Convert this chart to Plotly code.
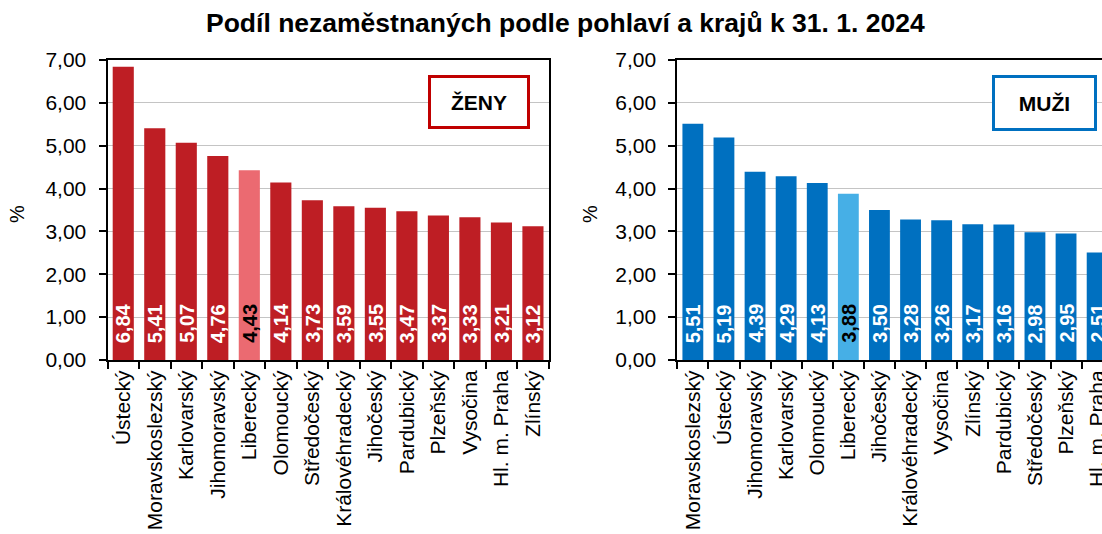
import plotly.graph_objects as go

title_text = "Podíl nezaměstnaných podle pohlaví a krajů k 31. 1. 2024"

women_regions = ["Ústecký", "Moravskoslezský", "Karlovarský", "Jihomoravský", "Liberecký",
                 "Olomoucký", "Středočeský", "Královéhradecký", "Jihočeský", "Pardubický",
                 "Plzeňský", "Vysočina", "Hl. m. Praha", "Zlínský"]
women_values = [6.84, 5.41, 5.07, 4.76, 4.43, 4.14, 3.73, 3.59, 3.55, 3.47, 3.37, 3.33, 3.21, 3.12]

men_regions = ["Moravskoslezský", "Ústecký", "Jihomoravský", "Karlovarský", "Olomoucký",
               "Liberecký", "Jihočeský", "Královéhradecký", "Vysočina", "Zlínský",
               "Pardubický", "Středočeský", "Plzeňský", "Hl. m. Praha"]
men_values = [5.51, 5.19, 4.39, 4.29, 4.13, 3.88, 3.50, 3.28, 3.26, 3.17, 3.16, 2.98, 2.95, 2.51]

highlight_region = "Liberecký"
y_ticks = [0, 1, 2, 3, 4, 5, 6, 7]

FONT = "Liberation Sans, Arial, sans-serif"
W, H = 1102, 534

RED, RED_HI = "#BE1E24", "#EB6A71"
BLUE, BLUE_HI = "#0070C0", "#46AFE6"


def px(X):
    return X / W


def py(Y):
    return 1 - Y / H


def fmt(v):
    return f"{v:.2f}".replace(".", ",")


fig = go.Figure()
fig.add_trace(go.Bar(
    x=women_regions, y=women_values, xaxis="x", yaxis="y",
    marker=dict(color=[RED_HI if r == highlight_region else RED for r in women_regions], line_width=0),
    hoverinfo="x+y", showlegend=False))
fig.add_trace(go.Bar(
    x=men_regions, y=men_values, xaxis="x2", yaxis="y2",
    marker=dict(color=[BLUE_HI if r == highlight_region else BLUE for r in men_regions], line_width=0),
    hoverinfo="x+y", showlegend=False))

annotations = []
for regs, vals, xr, yr in [(women_regions, women_values, "x", "y"),
                           (men_regions, men_values, "x2", "y2")]:
    for r, v in zip(regs, vals):
        annotations.append(dict(
            x=r, y=0, xref=xr, yref=yr, text=f"<b>{fmt(v)}</b>", textangle=-90,
            showarrow=False, yanchor="bottom", xanchor="center", yshift=15,
            font=dict(family=FONT, size=20, color="black" if r == highlight_region else "white")))

annotations.append(dict(x=px(565), y=py(23), xref="paper", yref="paper",
                        text=f"<b>{title_text}</b>", showarrow=False,
                        xanchor="center", yanchor="middle",
                        font=dict(family=FONT, size=26.5, color="black")))
for xc in (17, 590):
    annotations.append(dict(x=px(xc), y=py(214), xref="paper", yref="paper", text="%",
                            textangle=-90, showarrow=False, xanchor="center", yanchor="middle",
                            font=dict(family=FONT, size=20, color="black")))
annotations.append(dict(x=px(479), y=py(102), xref="paper", yref="paper", text="<b>ŽENY</b>",
                        showarrow=False, xanchor="center", yanchor="middle",
                        width=94, height=46, borderpad=1, borderwidth=3, bordercolor="#C00000",
                        bgcolor="white", font=dict(family=FONT, size=21, color="black")))
annotations.append(dict(x=px(1044.5), y=py(103), xref="paper", yref="paper", text="<b>MUŽI</b>",
                        showarrow=False, xanchor="center", yanchor="middle",
                        width=97, height=48, borderpad=1, borderwidth=3, bordercolor="#0070C0",
                        bgcolor="white", font=dict(family=FONT, size=21, color="black")))

ydom = [py(360), py(60)]
xcommon = dict(type="category", tickson="boundaries", ticks="outside", ticklen=7, tickwidth=1.5,
               tickcolor="black", tickangle=-90, showline=True, linecolor="black", linewidth=2,
               mirror=True, showgrid=False, automargin=False,
               tickfont=dict(family=FONT, size=21, color="black"))
ycommon = dict(range=[0, 7], tickvals=y_ticks, tickformat=".2f", ticks="outside", ticklen=7,
               tickwidth=1.5, tickcolor="black", showline=True, linecolor="black", linewidth=2,
               showgrid=True, gridcolor="#C4C4C4", gridwidth=1.2, zeroline=False, automargin=False,
               ticklabelstandoff=8, domain=ydom,
               tickfont=dict(family=FONT, size=21, color="black"))

fig.update_layout(
    width=W, height=H, autosize=False,
    margin=dict(l=0, r=0, t=0, b=0, pad=0),
    paper_bgcolor="white", plot_bgcolor="white",
    separators=", ",
    bargap=0.33,
    template="none",
    xaxis=dict(domain=[px(107.5), px(548.7)], range=[-0.5, 13.5], anchor="y",
               categoryorder="array", categoryarray=women_regions, **xcommon),
    xaxis2=dict(domain=[px(677.3), 1.0], range=[-0.5, -0.5 + (1102 - 677.3) / 31.1], anchor="y2",
                categoryorder="array", categoryarray=men_regions, **xcommon),
    yaxis=dict(anchor="x", mirror=True, **ycommon),
    yaxis2=dict(anchor="x2", mirror=False, **ycommon),
    annotations=annotations,
    showlegend=False,
)

fig.write_html("out.html", config={"displayModeBar": False},
               post_script="document.body.style.margin='0';document.body.style.overflow='hidden';")
